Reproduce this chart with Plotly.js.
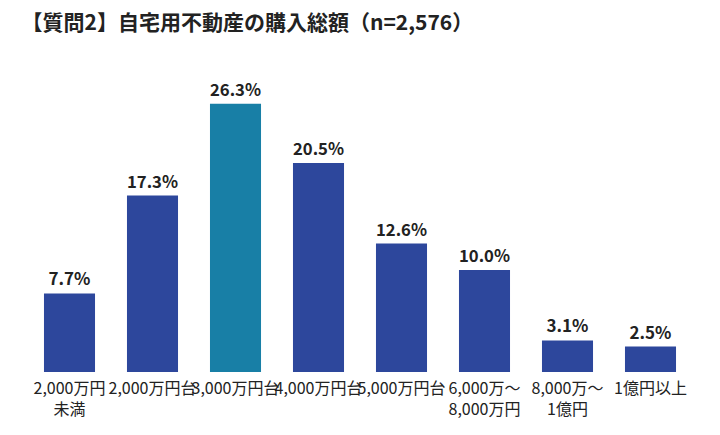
<!DOCTYPE html>
<html>
<head>
<meta charset="utf-8">
<script src="https://cdn.plot.ly/plotly-3.0.1.min.js"></script>
<style>
  html, body { margin: 0; padding: 0; background: #fff; }
  #chart { width: 720px; height: 435px; }
</style>
</head>
<body>
<div id="chart"></div>
<script>
const categories = [
  '2,000万円<br>未満',
  '2,000万円台',
  '3,000万円台',
  '4,000万円台',
  '5,000万円台',
  '6,000万～<br>8,000万円',
  '8,000万～<br>1億円',
  '1億円以上'
]
const shares = [7.7, 17.3, 26.3, 20.5, 12.6, 10.0, 3.1, 2.5]
const labels = shares.map(v => v.toFixed(1) + '%')
const barColors = shares.map((v, i) => i === 2 ? '#187FA6' : '#2D479C')

const font = '"Noto Sans CJK JP", "Noto Sans", sans-serif'

const trace = {
  type: 'bar',
  x: categories,
  y: shares,
  text: labels,
  textposition: 'outside',
  cliponaxis: false,
  textfont: { family: font, size: 17, color: '#222', weight: 'bold' },
  marker: { color: barColors },
  hoverinfo: 'skip'
}

const layout = {
  width: 720,
  height: 435,
  margin: { l: 28, r: 28, t: 66, b: 63 },
  paper_bgcolor: '#fff',
  plot_bgcolor: '#fff',
  bargap: 0.385,
  showlegend: false,
  title: {
    text: '<b>【質問2】自宅用不動産の購入総額（n=2,576）</b>',
    font: { family: font, size: 21, color: '#222' },
    x: 0.03, xanchor: 'left',
    y: 0.949, yanchor: 'middle', yref: 'container'
  },
  xaxis: {
    tickangle: 0,
    tickfont: { family: font, size: 16, color: '#222' },
    ticklabelstandoff: 5,
    showline: false,
    ticks: '',
    fixedrange: true
  },
  yaxis: {
    range: [0, 30],
    visible: false,
    fixedrange: true
  }
}

Plotly.newPlot('chart', [trace], layout, { displayModeBar: false, staticPlot: true })
</script>
</body>
</html>
